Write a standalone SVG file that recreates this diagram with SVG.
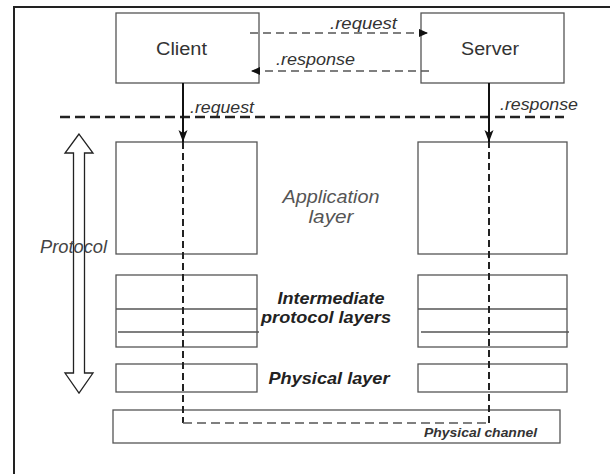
<svg xmlns="http://www.w3.org/2000/svg" width="610" height="474" viewBox="0 0 610 474">
<defs>
<style>
.box{fill:#fff;stroke:#555;stroke-width:1.3}
.ln{stroke:#555;stroke-width:1.3;fill:none}
.t{font-family:"Liberation Sans",Arial,Helvetica,sans-serif;}
.big{font-size:18px;fill:#333}
.lab{font-size:16px;font-style:italic;fill:#333}
.app{font-size:18px;font-style:italic;fill:#555}
.bi{font-size:16.5px;font-style:italic;font-weight:bold;fill:#222}
.dsh{stroke:#555;stroke-width:1.3;stroke-dasharray:8 5;fill:none}
.sep{stroke:#222;stroke-width:2.5;stroke-dasharray:10 5;fill:none}
.path{stroke:#222;stroke-width:2;stroke-dasharray:7 4;fill:none}
.pathh{stroke:#555;stroke-width:1.6;stroke-dasharray:9 5;fill:none}
.solid{stroke:#111;stroke-width:2;fill:none}
</style>
<marker id="tri" viewBox="0 0 10 10" refX="10" refY="5" markerWidth="9" markerHeight="9" markerUnits="userSpaceOnUse" orient="auto">
<path d="M0,0.5 L10,5 L0,9.5 Z" fill="#111"/>
</marker>
<marker id="barb" viewBox="0 0 12 10" refX="12" refY="5" markerWidth="12" markerHeight="10" markerUnits="userSpaceOnUse" orient="auto">
<path d="M0,0.5 L12,5 L0,9.5 L3,5 Z" fill="#111"/>
</marker>
</defs>
<rect width="610" height="474" fill="#fff"/>
<g id="frame">
<path d="M14,474 L14,7 L610,7" fill="none" stroke="#222" stroke-width="2"/>
</g>
<g id="client">
<rect class="box" x="116" y="13" width="143" height="70"/>
<text class="t big" x="181.5" y="55" text-anchor="middle" textLength="51" lengthAdjust="spacingAndGlyphs">Client</text>
</g>
<g id="server">
<rect class="box" x="421" y="13" width="143" height="70"/>
<text class="t big" x="490" y="55" text-anchor="middle" textLength="58" lengthAdjust="spacingAndGlyphs">Server</text>
</g>
<g id="app-left"><rect class="box" x="116" y="142" width="141" height="112"/></g>
<g id="app-right"><rect class="box" x="418" y="142" width="149" height="112"/></g>
<g id="inter-left">
<rect class="box" x="116" y="275" width="141" height="72"/>
<line class="ln" x1="116" y1="309" x2="257" y2="309"/>
<line class="ln" x1="118" y1="332" x2="259" y2="332"/>
</g>
<g id="inter-right">
<rect class="box" x="418" y="275" width="149" height="72"/>
<line class="ln" x1="418" y1="309" x2="567" y2="309"/>
<line class="ln" x1="421" y1="332" x2="569" y2="332"/>
</g>
<g id="phys-left"><rect class="box" x="116" y="364" width="141" height="28"/></g>
<g id="phys-right"><rect class="box" x="418" y="364" width="149" height="28"/></g>
<g id="channel">
<rect class="box" x="113" y="410" width="447" height="33"/>
<text class="t" x="424" y="437" font-size="12.5" font-style="italic" font-weight="bold" fill="#333" textLength="113" lengthAdjust="spacingAndGlyphs">Physical channel</text>
</g>
<g id="protocol">
<polygon points="79,134 65,153 73.5,153 73.5,373 65,373 79,393 93,373 84.5,373 84.5,153 93,153" fill="#fff" stroke="#222" stroke-width="1.3" stroke-linejoin="miter"/>
<text class="t" x="40" y="253" font-size="18" font-style="italic" fill="#444" textLength="67" lengthAdjust="spacingAndGlyphs">Protocol</text>
</g>
<g id="layer-labels">
<text class="t app" x="331" y="203" text-anchor="middle" textLength="97" lengthAdjust="spacingAndGlyphs">Application</text>
<text class="t app" x="331" y="223" text-anchor="middle" textLength="45" lengthAdjust="spacingAndGlyphs">layer</text>
<text class="t bi" x="331" y="304" text-anchor="middle" textLength="107" lengthAdjust="spacingAndGlyphs">Intermediate</text>
<text class="t bi" x="326" y="323" text-anchor="middle" textLength="130" lengthAdjust="spacingAndGlyphs">protocol layers</text>
<text class="t bi" x="329" y="384" text-anchor="middle" textLength="121" lengthAdjust="spacingAndGlyphs">Physical layer</text>
</g>
<g id="connectors">
<line class="sep" x1="60" y1="117" x2="564" y2="117"/>
<line class="dsh" x1="250" y1="33" x2="428" y2="33" marker-end="url(#tri)"/>
<text class="t lab" x="330" y="29" textLength="67" lengthAdjust="spacingAndGlyphs">.request</text>
<line class="dsh" x1="429" y1="71" x2="251" y2="71" marker-end="url(#tri)"/>
<text class="t lab" x="276" y="65" textLength="79" lengthAdjust="spacingAndGlyphs">.response</text>
<line class="solid" x1="183" y1="83" x2="183" y2="142" marker-end="url(#barb)"/>
<text class="t lab" x="190" y="113" textLength="64" lengthAdjust="spacingAndGlyphs">.request</text>
<line class="solid" x1="489" y1="83" x2="489" y2="142" marker-end="url(#barb)"/>
<text class="t lab" x="500" y="110" textLength="78" lengthAdjust="spacingAndGlyphs">.response</text>
<path class="path" d="M183,142 L183,423"/>
<path class="pathh" d="M183,423 L489,423"/>
<path class="path" d="M489,423 L489,142"/>
</g>
</svg>
